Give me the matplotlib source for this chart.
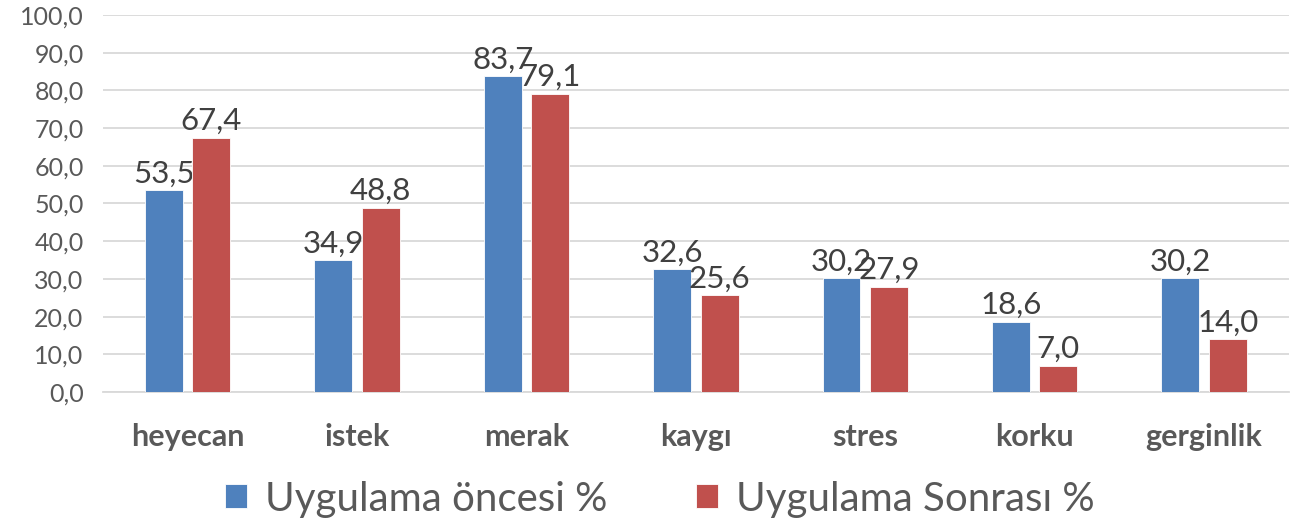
import matplotlib.pyplot as plt
import numpy as np

# Chart data
categories = ['heyecan', 'istek', 'merak', 'kaygı', 'stres', 'korku', 'gerginlik']
oncesi = [53.5, 34.9, 83.7, 32.6, 30.2, 18.6, 30.2]
sonrasi = [67.4, 48.8, 79.1, 25.6, 27.9, 7.0, 14.0]
series_names = ['Uygulama öncesi %', 'Uygulama Sonrası %']
colors = ['#4F81BD', '#C0504D']

plt.rcParams['font.family'] = ['Lato', 'DejaVu Sans']

fig = plt.figure(figsize=(13.07, 5.30), dpi=100)
ax = fig.add_axes([0.0788, 0.2604, 0.9072, 0.7113])

x = np.arange(len(categories))
width = 0.224
offset = 0.14

for vals, name, color, sign in zip([oncesi, sonrasi], series_names, colors, [-1, 1]):
    bars = ax.bar(x + sign * offset, vals, width, color=color, label=name,
                  edgecolor='white', linewidth=0.6, zorder=3)
    for rect, v in zip(bars, vals):
        ax.annotate(f'{v:.1f}'.replace('.', ','),
                    (rect.get_x() + rect.get_width() / 2, rect.get_height()),
                    xytext=(0, 2), textcoords='offset points',
                    ha='center', va='bottom', fontsize=22.5, color='#404040')

ax.set_xlim(-0.5, len(categories) - 0.5)
ax.set_ylim(0, 100)
ax.set_yticks(np.arange(0, 101, 10))
ax.set_yticklabels([f'{t:.1f}'.replace('.', ',') for t in np.arange(0, 101, 10)])
ax.tick_params(axis='y', length=0, labelsize=18, labelcolor='#595959', pad=14)
ax.set_xticks(x)
ax.set_xticklabels(categories, fontweight='bold')
ax.tick_params(axis='x', length=0, labelsize=22, labelcolor='#595959', pad=22)

ax.grid(axis='y', color='#D9D9D9', linewidth=1.3, zorder=0)
for side in ['top', 'right', 'left']:
    ax.spines[side].set_visible(False)
ax.spines['bottom'].set_color('#D9D9D9')
ax.spines['bottom'].set_linewidth(1.3)

fig.legend(loc='lower center', bbox_to_anchor=(0.505, -0.045), ncol=2, frameon=False,
           fontsize=29, labelcolor='#595959', handlelength=0.55, handleheight=0.55,
           handletextpad=0.45, columnspacing=2.2)

plt.savefig('out.png', dpi=100)
plt.close()
